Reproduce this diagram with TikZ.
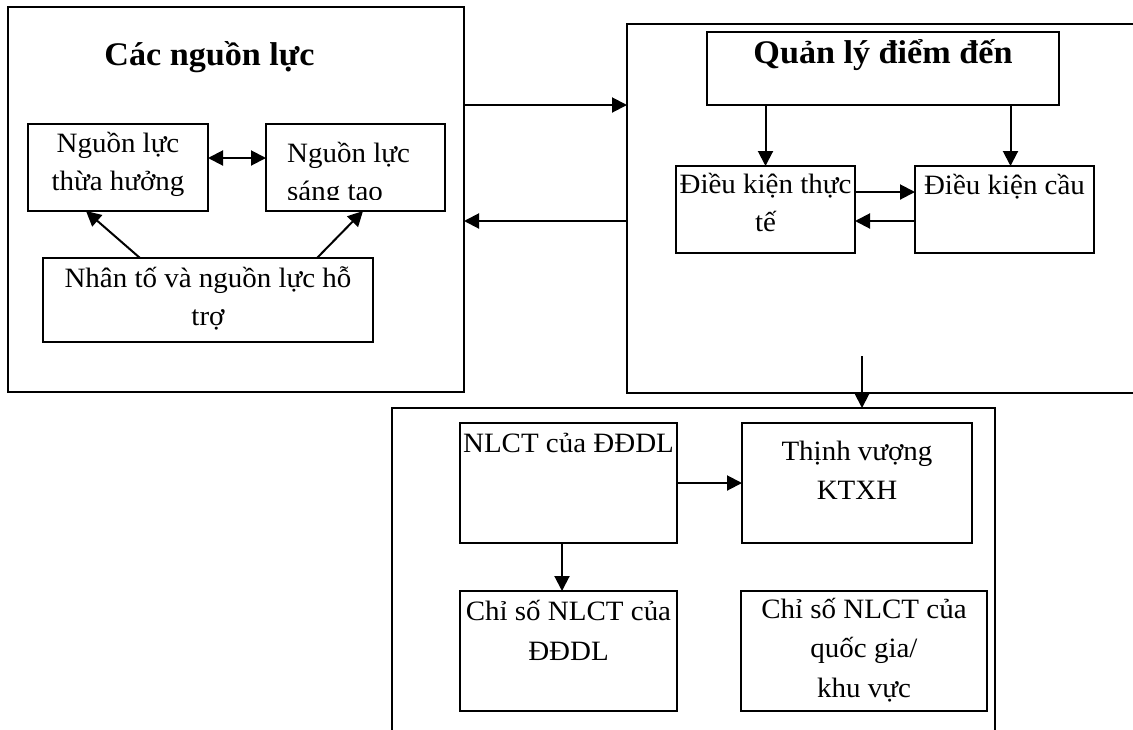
\documentclass[tikz,border=0pt]{standalone}
\usepackage{fontspec}
\setmainfont{Liberation Serif}[FakeStretch=1.035]
\usetikzlibrary{arrows.meta,calc}

% #1 width, #2 height, #3 first-baseline drop, #4 baselineskip, #5 text
\newcommand{\bxt}[5]{\parbox[c][#2][t]{#1}{\centering\fontsize{28pt}{#4}\selectfont\rule{0pt}{#3}#5}}

\tikzset{
  frame/.style={draw, line width=2pt, inner sep=0pt, outer sep=0pt, anchor=north west},
  box/.style={draw, line width=2pt, inner sep=0pt, outer sep=0pt, anchor=north west},
  arr/.style={line width=2pt, -{Triangle[length=15pt,width=15pt]}},
  darr/.style={line width=2pt, {Triangle[length=15pt,width=15pt]}-{Triangle[length=15pt,width=15pt]}},
  titlefont/.style={font=\bfseries\fontsize{33pt}{39pt}\selectfont}
}

\begin{document}
\begin{tikzpicture}[x=1pt,y=-1pt]
\useasboundingbox (0,0) rectangle (1133,729);
\clip (0,0) rectangle (1133,729);

% ---------- left frame: resources ----------
\node[frame, minimum width=456pt, minimum height=385pt] (L) at (8,7) {};
\node[titlefont, anchor=base, inner sep=0pt] (T1) at (209.5,65) {Các nguồn lực};
\node[box] (A) at (28,124) {\bxt{180pt}{87pt}{28pt}{38.5pt}{Nguồn lực\\thừa hưởng}};
\node[box, minimum width=179pt, minimum height=87pt] (B) at (266,124) {};
\begin{scope}
  \clip (266,124) rectangle (445,199);
  \node[anchor=north west, inner sep=0pt] (Btxt) at (B.north west)
    {\parbox[c][87pt][t]{179pt}{\fontsize{28pt}{38.5pt}\selectfont\leftskip=21pt\rule{0pt}{38pt}Nguồn lực\\sáng tạo}};
\end{scope}
\node[box] (C) at (43,258) {\bxt{330pt}{84pt}{29pt}{38.5pt}{Nhân tố và nguồn lực hỗ\\trợ}};

\draw[darr] ([yshift=-34pt]A.north east) -- ([yshift=-34pt]B.north west);
\draw[arr] ([xshift=97pt]C.north west) -- ([xshift=58pt]A.south west);
\draw[arr] ([xshift=274pt]C.north west) -- ([xshift=97pt]B.south west);

% ---------- right frame: destination management ----------
\node[frame, minimum width=600pt, minimum height=369pt] (R) at (627,24) {};
\node[box] (Q) at (707,32) {\parbox[c][73pt][t]{352pt}{\centering\bfseries\fontsize{33pt}{39pt}\selectfont\rule{0pt}{31pt}Quản lý điểm đến}};
\node[box] (DT) at (676,166) {\bxt{179pt}{87pt}{27pt}{38.5pt}{Điều kiện thực\\tế}};
\node[box] (DC) at (915,166) {\bxt{179pt}{87pt}{28pt}{38.5pt}{Điều kiện cầu}};

\draw[arr] (DT.north |- Q.south) -- (DT.north);
\draw[arr] ([xshift=6pt]DC.north |- Q.south) -- ([xshift=6pt]DC.north);
\draw[arr] ([yshift=-26pt]DT.north east) -- ([yshift=-26pt]DC.north west);
\draw[arr] ([yshift=-55pt]DC.north west) -- ([yshift=-55pt]DT.north east);

% ---------- arrows between frames ----------
\coordinate (back) at (0,221);
\draw[arr] (L.east |- Q.south) -- (R.west |- Q.south);
\draw[arr] (R.west |- back) -- (L.east |- back);

% ---------- bottom frame: competitiveness ----------
\node[frame, minimum width=603pt, minimum height=400pt] (Bot) at (392,408) {};
\coordinate (dn) at (862,356);
\draw[arr] (dn) -- (dn |- Bot.north);

\node[box] (N) at (460,423) {\bxt{217pt}{120pt}{29pt}{39.5pt}{NLCT của ĐĐDL}};
\node[box] (TV) at (742,423) {\bxt{230pt}{120pt}{37pt}{39.5pt}{Thịnh vượng\\KTXH}};
\node[box] (C1) at (460,591) {\bxt{217pt}{120pt}{29pt}{40pt}{Chỉ số NLCT của\\ĐĐDL}};
\node[box] (C2) at (741,591) {\bxt{246pt}{120pt}{27pt}{39.5pt}{Chỉ số NLCT của\\quốc gia/\\khu vực}};

\draw[arr] ([yshift=-60pt]N.north east) -- ([yshift=-60pt]TV.north west);
\draw[arr] ([xshift=102pt]N.south west) -- ([xshift=102pt]C1.north west);
\end{tikzpicture}
\end{document}
